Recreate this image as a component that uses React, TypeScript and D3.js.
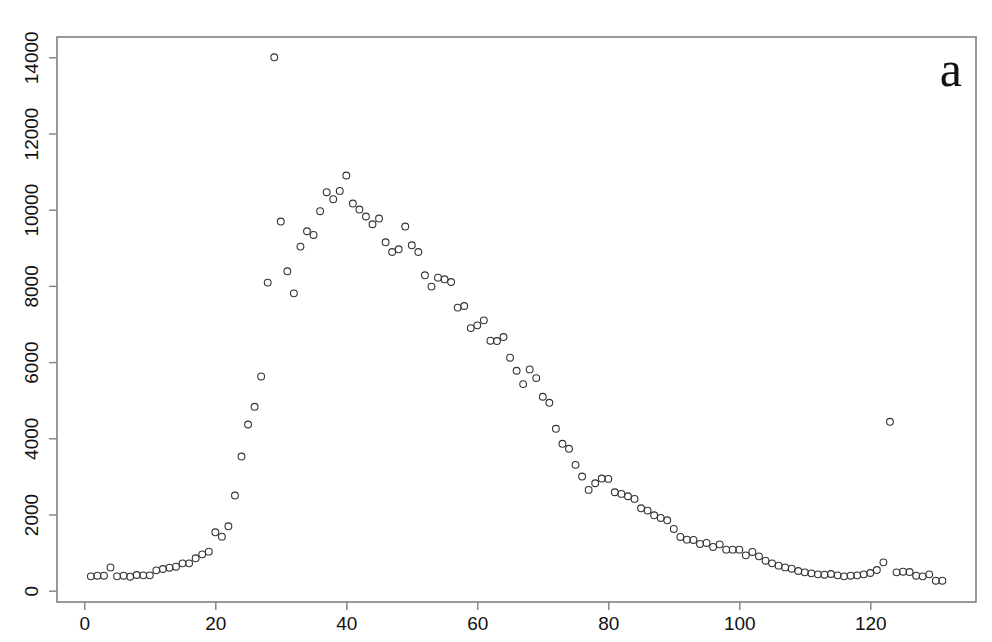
import { useEffect, useRef } from 'react'
import * as d3 from 'd3'

// daily counts, day 1..131
const counts = [
  376, 394, 394, 612, 376, 394, 368, 412, 403, 403,
  534, 570, 604, 630, 718, 718, 850, 954, 1025, 1533,
  1419, 1690, 2497, 3521, 4362, 4827, 5624, 8086, 14000, 9689,
  8383, 7805, 9032, 9435, 9337, 9960, 10459, 10275, 10494, 10898,
  10162, 10004, 9821, 9618, 9768, 9145, 8890, 8961, 9558, 9066,
  8890, 8278, 7981, 8217, 8173, 8103, 7430, 7472, 6893, 6964,
  7096, 6562, 6552, 6657, 6115, 5773, 5422, 5808, 5580, 5090,
  4932, 4249, 3855, 3724, 3303, 2996, 2646, 2820, 2943, 2935,
  2584, 2541, 2479, 2410, 2163, 2102, 1979, 1910, 1848, 1621,
  1411, 1340, 1332, 1227, 1253, 1148, 1217, 1077, 1077, 1077,
  928, 1017, 902, 788, 718, 657, 612, 578, 517, 481,
  455, 429, 420, 438, 403, 376, 394, 403, 429, 464,
  543, 744, 4433, 481, 499, 490, 394, 376, 429, 263,
  263,
]
const days = counts.map((_, i) => i + 1)
const xTicks = [0, 20, 40, 60, 80, 100, 120]
const yTicks = [0, 2000, 4000, 6000, 8000, 10000, 12000, 14000]
const panelLabel = 'a'

export default function App() {
  const svgRef = useRef<any>()
  const W = 992
  const H = 642
  const box = { left: 57, top: 37, right: 976, bottom: 602 }

  useEffect(() => {
    const svg = d3.select(svgRef.current)
    svg.selectAll('*').remove()

    const x = d3.scaleLinear().domain([0, 120]).range([84.3, 870.3])
    const y = d3.scaleLinear().domain([0, 14000]).range([590.7, 57.3])
    const axisColor = '#808080'
    const font = '"Liberation Sans", Arial, Helvetica, sans-serif'

    // frame
    svg
      .append('rect')
      .attr('x', box.left)
      .attr('y', box.top)
      .attr('width', box.right - box.left)
      .attr('height', box.bottom - box.top)
      .attr('fill', 'none')
      .attr('stroke', axisColor)
      .attr('stroke-width', 1.6)

    // x axis
    const xAxis = d3.axisBottom(x).tickValues(xTicks).tickSize(8).tickPadding(7).tickSizeOuter(0)
    const gx = svg.append('g').attr('transform', `translate(0,${box.bottom})`).call(xAxis)
    gx.select('.domain').remove()
    gx.selectAll('line').attr('stroke', axisColor).attr('stroke-width', 1.4)
    gx.selectAll('text').attr('font-family', font).attr('font-size', 19).attr('fill', '#111')

    // y axis (rotated labels, no thousands separator)
    const yAxis = d3
      .axisLeft(y)
      .tickValues(yTicks)
      .tickFormat(d3.format('d'))
      .tickSize(8)
      .tickSizeOuter(0)
    const gy = svg.append('g').attr('transform', `translate(${box.left},0)`).call(yAxis)
    gy.select('.domain').remove()
    gy.selectAll('line').attr('stroke', axisColor).attr('stroke-width', 1.4)
    gy.selectAll('text')
      .attr('font-family', font)
      .attr('font-size', 19)
      .attr('fill', '#111')
      .attr('x', null)
      .attr('dy', null)
      .attr('text-anchor', 'middle')
      .attr('transform', 'translate(-19,0) rotate(-90)')

    // points
    svg
      .append('g')
      .selectAll('circle')
      .data(days)
      .enter()
      .append('circle')
      .attr('cx', (d) => x(d))
      .attr('cy', (d, i) => y(counts[i]))
      .attr('r', 3.4)
      .attr('fill', 'none')
      .attr('stroke', '#333')
      .attr('stroke-width', 1.1)

    svg
      .append('text')
      .attr('x', 962)
      .attr('y', 86)
      .attr('text-anchor', 'end')
      .attr('font-family', '"Liberation Serif", "DejaVu Serif", serif')
      .attr('font-size', 50)
      .attr('fill', '#111')
      .text(panelLabel)
  }, [])

  return (
    <svg
      ref={svgRef}
      width={W}
      height={H}
      style={{ position: 'absolute', left: 0, top: 0, background: '#fff' }}
    ></svg>
  )
}
